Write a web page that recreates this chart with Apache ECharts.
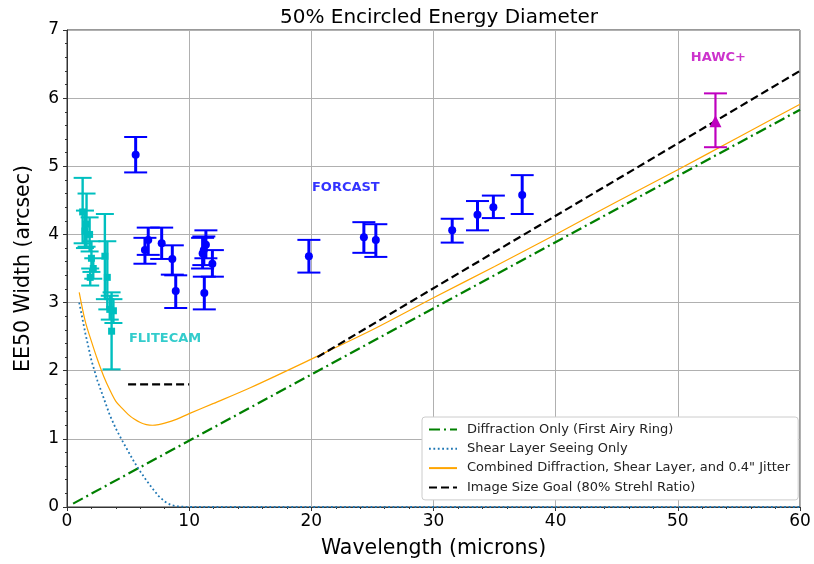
<!DOCTYPE html>
<html>
<head>
<meta charset="utf-8">
<script src="https://cdn.jsdelivr.net/npm/echarts@6/dist/echarts.min.js"></script>
<style>
  html, body { margin: 0; padding: 0; background: #fff; }
  #main { width: 814px; height: 564px; }
</style>
</head>
<body>
<div id="main"></div>
<script>
// curves [wavelength, EE50]
var diffraction = [[0.5, 0.05], [60, 5.83]];
var shearLayer = [[1, 3.0], [1.5, 2.55], [2, 2.15], [2.5, 1.85], [3, 1.6], [3.5, 1.35], [4, 1.15],
  [4.5, 0.98], [5, 0.82], [5.5, 0.66], [6, 0.52], [6.5, 0.39], [7, 0.27], [7.5, 0.16],
  [8, 0.08], [8.5, 0.03], [9, 0.01], [10, 0], [20, 0], [40, 0], [60, 0]];
var combined = [[1, 3.15], [1.5, 2.72], [2, 2.43], [2.5, 2.16], [3, 1.92], [3.5, 1.72], [4, 1.55],
  [4.5, 1.45], [5, 1.36], [5.5, 1.29], [6, 1.24], [6.5, 1.21], [7, 1.2], [7.5, 1.21],
  [8, 1.23], [9, 1.29], [10, 1.37], [12, 1.52], [15, 1.75], [20, 2.17], [25, 2.6],
  [30, 3.07], [35, 3.53], [40, 4.0], [45, 4.48], [50, 4.95], [55, 5.43], [60, 5.91]];
var goalLong = [[20.5, 2.2], [60, 6.4]];
var goalFlitecam = [[5, 1.8], [10, 1.8]];

// measurements: x, y, lower, upper
var flitecamX  = [1.28, 1.6, 1.47, 1.85, 2.0, 2.15, 1.9, 3.1, 3.3, 3.5, 3.8, 3.65];
var flitecamY  = [4.33, 4.15, 4.05, 4.0, 3.65, 3.5, 3.37, 3.68, 3.37, 2.9, 2.88, 2.58];
var flitecamLo = [3.87, 3.82, 3.8, 3.75, 3.45, 3.35, 3.25, 3.05, 2.9, 2.75, 2.7, 2.02];
var flitecamHi = [4.83, 4.6, 4.35, 4.25, 3.9, 3.65, 3.5, 4.3, 3.9, 3.1, 3.05, 3.15];

var forcastX  = [5.62, 6.65, 6.38, 7.75, 8.62, 8.9, 11.37, 11.2, 11.1, 11.9, 11.24,
  19.8, 24.3, 25.28, 31.53, 33.6, 34.9, 37.26];
var forcastY  = [5.17, 3.92, 3.77, 3.87, 3.64, 3.17, 3.85, 3.77, 3.72, 3.57, 3.14,
  3.68, 3.96, 3.92, 4.06, 4.29, 4.4, 4.58];
var forcastLo = [4.91, 3.7, 3.57, 3.64, 3.41, 2.92, 3.65, 3.55, 3.5, 3.38, 2.9,
  3.44, 3.73, 3.67, 3.88, 4.06, 4.24, 4.3];
var forcastHi = [5.43, 4.1, 3.95, 4.1, 3.84, 3.4, 4.06, 3.97, 3.95, 3.77, 3.38,
  3.92, 4.18, 4.15, 4.23, 4.49, 4.57, 4.87];

var hawcX = [53.08], hawcY = [5.66], hawcLo = [5.28], hawcHi = [6.07];

var xTicks = [0, 10, 20, 30, 40, 50, 60];
var yTicks = [0, 1, 2, 3, 4, 5, 6, 7];

var FONT = 'DejaVu Sans';

function rows(xs, ys, lo, hi) {
  return xs.map(function (x, i) { return [x, ys[i], lo[i], hi[i]]; });
}

function errBars(name, data, color, width, cap) {
  return {
    type: 'custom',
    name: name,
    data: data,
    z: 3,
    silent: true,
    renderItem: function (params, api) {
      var top = api.coord([api.value(0), api.value(3)]);
      var bot = api.coord([api.value(0), api.value(2)]);
      var capStyle = { stroke: color, lineWidth: 2 };
      return {
        type: 'group',
        children: [
          { type: 'line', shape: { x1: top[0], y1: top[1], x2: bot[0], y2: bot[1] }, style: { stroke: color, lineWidth: width } },
          { type: 'line', shape: { x1: top[0] - cap, y1: top[1], x2: top[0] + cap, y2: top[1] }, style: capStyle },
          { type: 'line', shape: { x1: bot[0] - cap, y1: bot[1], x2: bot[0] + cap, y2: bot[1] }, style: capStyle }
        ]
      };
    }
  };
}

function marks(data, color, symbol, size) {
  return {
    type: 'scatter', data: data, symbol: symbol, symbolSize: size, z: 4, silent: true,
    itemStyle: { color: color, opacity: 1 }
  };
}

function note(text, pos, color) {
  return {
    type: 'scatter', data: [pos], symbolSize: 0, silent: true, z: 5,
    label: { show: true, position: 'right', distance: 0, formatter: text,
      color: color, fontFamily: FONT, fontWeight: 'bold', fontSize: 13 }
  };
}

var chart = echarts.init(document.getElementById('main'));

var option = {
  animation: false,
  title: {
    text: '50% Encircled Energy Diameter',
    left: 434, top: 3, textAlign: 'center',
    textStyle: { fontFamily: FONT, fontSize: 20, fontWeight: 'normal', color: '#000' }
  },
  grid: { left: 67, right: 14, top: 30, bottom: 56, show: true, borderColor: '#333', borderWidth: 1, backgroundColor: 'transparent' },
  legend: {
    orient: 'vertical', left: 422, top: 417,
    padding: [6, 8, 6, 6], itemGap: 6.3, itemWidth: 28, itemHeight: 14,
    backgroundColor: '#fff', borderColor: '#ccc', borderWidth: 1, borderRadius: 3,
    itemStyle: { opacity: 0 },
    textStyle: { fontFamily: FONT, fontSize: 13, color: '#222', padding: [0, 0, 0, 5] },
    data: ['Diffraction Only (First Airy Ring)', 'Shear Layer Seeing Only',
      'Combined Diffraction, Shear Layer, and 0.4" Jitter', 'Image Size Goal (80% Strehl Ratio)']
  },
  xAxis: {
    type: 'value', min: xTicks[0], max: xTicks[xTicks.length - 1], interval: 10,
    name: 'Wavelength (microns)', nameLocation: 'middle', nameGap: 31,
    nameTextStyle: { fontFamily: FONT, fontSize: 20.5, color: '#000' },
    axisLine: { show: true, onZero: false, lineStyle: { color: '#333' } },
    axisTick: { show: true, length: 4, lineStyle: { color: '#333' } },
    minorTick: { show: true, splitNumber: 5, length: 2, lineStyle: { color: '#333' } },
    axisLabel: { fontFamily: FONT, fontSize: 17, color: '#000', margin: 6 },
    splitLine: { show: true, lineStyle: { color: '#b0b0b0', width: 1 } }
  },
  yAxis: {
    type: 'value', min: yTicks[0], max: yTicks[yTicks.length - 1], interval: 1,
    name: 'EE50 Width (arcsec)', nameLocation: 'middle', nameGap: 33,
    nameTextStyle: { fontFamily: FONT, fontSize: 20.5, color: '#000' },
    axisLine: { show: true, lineStyle: { color: '#333' } },
    axisTick: { show: true, length: 4, lineStyle: { color: '#333' } },
    minorTick: { show: true, splitNumber: 5, length: 2, lineStyle: { color: '#333' } },
    axisLabel: { fontFamily: FONT, fontSize: 17, color: '#000', margin: 8 },
    splitLine: { show: true, lineStyle: { color: '#b0b0b0', width: 1 } }
  },
  series: [
    { type: 'line', name: 'Diffraction Only (First Airy Ring)', data: diffraction, showSymbol: false, symbol: 'none', z: 2,
      lineStyle: { color: '#008000', width: 2.2, type: [11, 4, 2, 4] }, itemStyle: { color: '#008000' } },
    { type: 'line', name: 'Shear Layer Seeing Only', data: shearLayer, showSymbol: false, symbol: 'none', z: 2,
      lineStyle: { color: '#1f77b4', width: 1.8, type: [1.8, 2.6] }, itemStyle: { color: '#1f77b4' } },
    { type: 'line', name: 'Combined Diffraction, Shear Layer, and 0.4" Jitter', data: combined, showSymbol: false, symbol: 'none', smooth: 0.3, z: 2,
      lineStyle: { color: '#ffa500', width: 1.2 }, itemStyle: { color: '#ffa500' } },
    { type: 'line', name: 'Image Size Goal (80% Strehl Ratio)', data: goalLong, showSymbol: false, symbol: 'none', z: 2,
      lineStyle: { color: '#000', width: 2.2, type: [8, 4] }, itemStyle: { color: '#000' } },
    { type: 'line', name: 'Image Size Goal (80% Strehl Ratio)', data: goalFlitecam, showSymbol: false, symbol: 'none', z: 2,
      lineStyle: { color: '#000', width: 2.2, type: [8, 4] }, itemStyle: { color: '#000' } },

    errBars('flitecam', rows(flitecamX, flitecamY, flitecamLo, flitecamHi), '#00bfbf', 2.4, 9),
    marks(rows(flitecamX, flitecamY, flitecamLo, flitecamHi), '#00bfbf', 'rect', 7),
    errBars('forcast', rows(forcastX, forcastY, forcastLo, forcastHi), '#0000ff', 3, 11.5),
    marks(rows(forcastX, forcastY, forcastLo, forcastHi), '#0000ff', 'circle', 8),
    errBars('hawc', rows(hawcX, hawcY, hawcLo, hawcHi), '#bf00bf', 2.2, 11.5),
    marks(rows(hawcX, hawcY, hawcLo, hawcHi), '#bf00bf', 'triangle', 12),

    note('FLITECAM', [5.07, 2.47], '#00bfbf'),
    note('FORCAST', [20.05, 4.68], '#0000ff'),
    note('HAWC+', [51.06, 6.59], '#bf00bf')
  ]
};

chart.setOption(option);
</script>
</body>
</html>
